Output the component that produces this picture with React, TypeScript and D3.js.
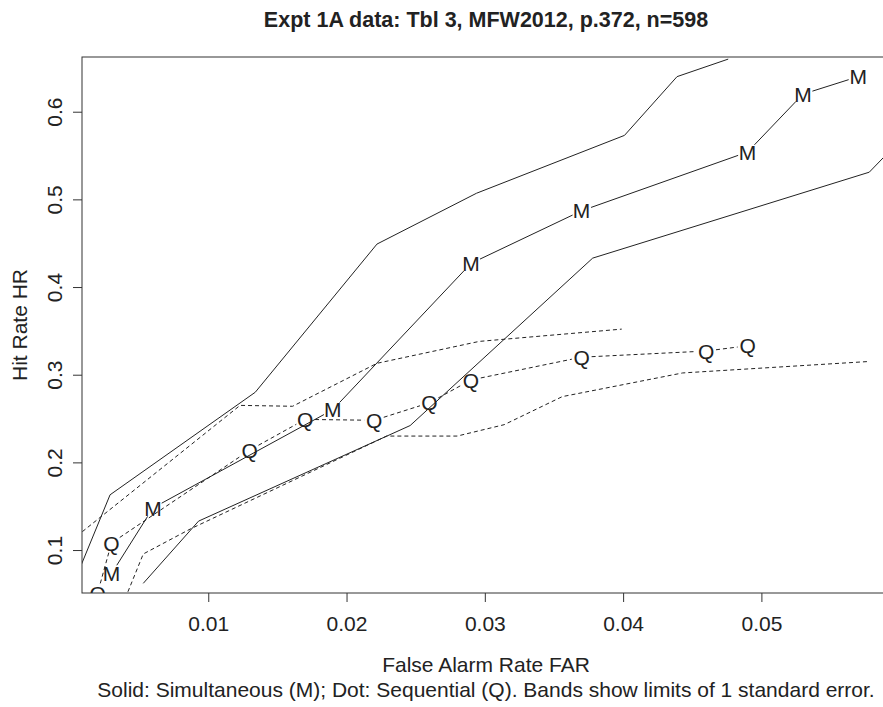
import { useEffect, useRef } from 'react';
import * as d3 from 'd3';

// centre lines (labelled points)
const farM = [0.003, 0.006, 0.019, 0.029, 0.037, 0.049, 0.053, 0.057];
const hrM = [0.073, 0.148, 0.26, 0.427, 0.487, 0.554, 0.62, 0.64];
const farQ = [0.002, 0.003, 0.013, 0.017, 0.022, 0.026, 0.029, 0.037, 0.046, 0.049];
const hrQ = [0.051, 0.108, 0.214, 0.249, 0.248, 0.268, 0.294, 0.32, 0.327, 0.333];

// standard error bands
const farMHi = [0.0005, 0.0029, 0.0134, 0.0222, 0.0294, 0.0401, 0.0439, 0.0476];
const hrMHi = [0.071, 0.163, 0.28, 0.449, 0.507, 0.573, 0.64, 0.66];
const farMLo = [0.0053, 0.0093, 0.0246, 0.0378, 0.0578, 0.0605];
const hrMLo = [0.062, 0.133, 0.242, 0.433, 0.531, 0.575];
const farQHi = [0.0005, 0.0123, 0.0161, 0.0222, 0.0296, 0.0399];
const hrQHi = [0.116, 0.265, 0.264, 0.313, 0.338, 0.352];
const farQLo = [0.004, 0.0053, 0.0087, 0.0229, 0.028, 0.0314, 0.0356, 0.0443, 0.0577];
const hrQLo = [0.045, 0.0955, 0.124, 0.23, 0.23, 0.243, 0.275, 0.302, 0.315];

const xTicks = [0.01, 0.02, 0.03, 0.04, 0.05];
const yTicks = [0.1, 0.2, 0.3, 0.4, 0.5, 0.6];

const W = 883;
const H = 707;
const FONT = "'Liberation Sans', Arial, Helvetica, sans-serif";

export default function App() {
  const ref = useRef<SVGSVGElement>(null);

  useEffect(() => {
    const svg = d3.select(ref.current);
    svg.selectAll('*').remove();

    const left = 82, top = 57, right = 890, bottom = 593;
    const x = d3.scaleLinear().domain([0.00087, 0.0593]).range([left, right]);
    const y = d3.scaleLinear().domain([0.051, 0.6624]).range([bottom, top]);

    svg.append('defs').append('clipPath').attr('id', 'plotclip')
      .append('rect').attr('x', left).attr('y', top)
      .attr('width', right - left).attr('height', bottom - top);

    const plot = svg.append('g').attr('clip-path', 'url(#plotclip)');
    const line = d3.line<[number, number]>().x((d) => x(d[0])).y((d) => y(d[1]));
    const zip = (a: number[], b: number[]) => a.map((v, i) => [v, b[i]] as [number, number]);

    const band = (fx: number[], fy: number[], dashed: boolean) => {
      plot.append('path')
        .attr('d', line(zip(fx, fy)))
        .attr('fill', 'none')
        .attr('stroke', '#222')
        .attr('stroke-width', 1)
        .attr('stroke-dasharray', dashed ? '4,3' : null);
    };
    band(farMHi, hrMHi, false);
    band(farMLo, hrMLo, false);
    band(farQHi, hrQHi, true);
    band(farQLo, hrQLo, true);

    // type "b": segments with a gap round each letter
    const gap = 10;
    const centre = (fx: number[], fy: number[], ch: string, dashed: boolean) => {
      const pts = zip(fx, fy).map((d) => [x(d[0]), y(d[1])]);
      for (let i = 0; i < pts.length - 1; i++) {
        const [x0, y0] = pts[i];
        const [x1, y1] = pts[i + 1];
        const len = Math.hypot(x1 - x0, y1 - y0);
        if (len <= 2 * gap) continue;
        const ux = (x1 - x0) / len, uy = (y1 - y0) / len;
        plot.append('line')
          .attr('x1', x0 + ux * gap).attr('y1', y0 + uy * gap)
          .attr('x2', x1 - ux * gap).attr('y2', y1 - uy * gap)
          .attr('stroke', '#222').attr('stroke-width', 1)
          .attr('stroke-dasharray', dashed ? '4,3' : null);
      }
      plot.selectAll(null).data(pts).enter().append('text')
        .attr('x', (d) => d[0]).attr('y', (d) => d[1])
        .attr('dy', '0.36em')
        .attr('text-anchor', 'middle')
        .attr('font-family', FONT).attr('font-size', 21)
        .attr('fill', '#222')
        .text(ch);
    };
    centre(farM, hrM, 'M', false);
    centre(farQ, hrQ, 'Q', true);

    // box
    svg.append('rect').attr('x', left).attr('y', top)
      .attr('width', right - left).attr('height', bottom - top)
      .attr('fill', 'none').attr('stroke', '#333').attr('stroke-width', 1);

    // x axis
    const gx = svg.append('g').attr('transform', `translate(0,${bottom})`)
      .call(d3.axisBottom(x).tickValues(xTicks).tickFormat(d3.format('.2f')).tickSize(9).tickSizeOuter(0).tickPadding(14));
    gx.select('.domain').remove();
    gx.selectAll('line').attr('stroke', '#333');
    gx.selectAll('text').attr('font-family', FONT).attr('font-size', 21).attr('fill', '#222');

    // y axis, labels parallel to axis
    const gy = svg.append('g').attr('transform', `translate(${left},0)`)
      .call(d3.axisLeft(y).tickValues(yTicks).tickFormat(d3.format('.1f')).tickSize(9).tickSizeOuter(0));
    gy.select('.domain').remove();
    gy.selectAll('line').attr('stroke', '#333');
    gy.selectAll('text')
      .attr('transform', 'rotate(-90)')
      .attr('x', 0).attr('y', -20).attr('dy', null)
      .attr('text-anchor', 'middle')
      .attr('font-family', FONT).attr('font-size', 21).attr('fill', '#222');

    const cx = (left + right) / 2;
    svg.append('text').attr('x', cx).attr('y', 27).attr('text-anchor', 'middle')
      .attr('font-family', FONT).attr('font-size', 21.5).attr('font-weight', 'bold').attr('fill', '#222')
      .text('Expt 1A data: Tbl 3, MFW2012, p.372, n=598');
    svg.append('text').attr('x', cx).attr('y', 672).attr('text-anchor', 'middle')
      .attr('font-family', FONT).attr('font-size', 21).attr('fill', '#222')
      .text('False Alarm Rate FAR');
    svg.append('text').attr('x', cx).attr('y', 697).attr('text-anchor', 'middle')
      .attr('font-family', FONT).attr('font-size', 21).attr('fill', '#222')
      .text('Solid: Simultaneous (M); Dot: Sequential (Q). Bands show limits of 1 standard error.');
    svg.append('text').attr('transform', `translate(27,${(top + bottom) / 2}) rotate(-90)`)
      .attr('text-anchor', 'middle')
      .attr('font-family', FONT).attr('font-size', 21).attr('fill', '#222')
      .text('Hit Rate HR');
  }, []);

  return (
    <>
      <style>{'body{margin:0}'}</style>
      <svg ref={ref} width={W} height={H} style={{ display: 'block', background: '#fff' }} />
    </>
  );
}
